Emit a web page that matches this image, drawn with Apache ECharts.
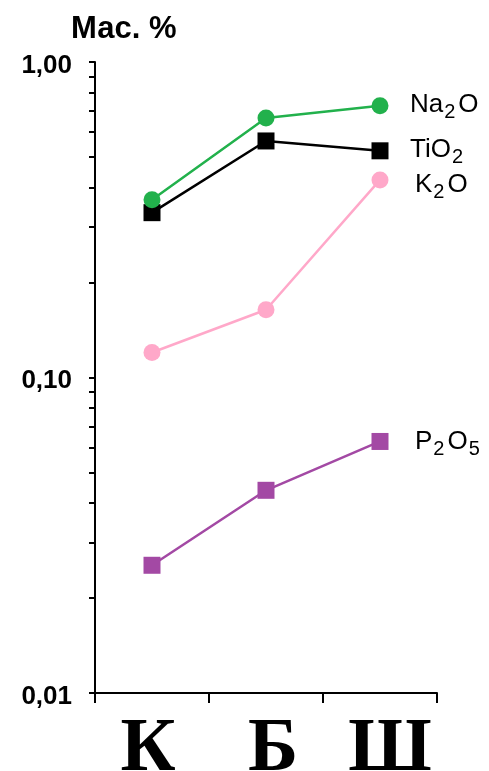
<!DOCTYPE html>
<html>
<head>
<meta charset="utf-8">
<script src="https://cdn.jsdelivr.net/npm/echarts@6/dist/echarts.min.js"></script>
<style>
html,body{margin:0;padding:0;background:#fff;}
#c{width:489px;height:771px;}
</style>
</head>
<body>
<div id="c"></div>
<script>
const categories = ['К', 'Б', 'Ш'];
const na2o = [0.366, 0.665, 0.727];
const tio2 = [0.333, 0.562, 0.523];
const k2o = [0.120, 0.164, 0.423];
const p2o5 = [0.0254, 0.0439, 0.0627];
const yTickLabels = ['0,01', '0,10', '1,00'];
const yLabelValues = [0.01, 0.1, 1];
const yTickValues = [0.01,0.02,0.03,0.04,0.05,0.06,0.07,0.08,0.09,0.1,0.2,0.3,0.4,0.5,0.6,0.7,0.8,0.9,1];
const titleText = 'Мас. %';

const chart = echarts.init(document.getElementById('c'), null, {renderer: 'canvas'});

const rich = {
  a: {fontFamily: 'Liberation Sans, Arial', fontSize: 26, color: '#000'},
  s: {fontFamily: 'Liberation Sans, Arial', fontSize: 20, color: '#000', padding: [16, 0, 0, 1]},
  o: {fontFamily: 'Liberation Sans, Arial', fontSize: 26, color: '#000', padding: [0, 0, 0, 3]}
};

function mk(name, data, color, symbol, size, fmt, offset) {
  return {
    name: name,
    type: 'line',
    data: data,
    symbol: symbol,
    symbolSize: size,
    lineStyle: {color: color, width: 2.5},
    itemStyle: {color: color},
    showSymbol: true,
    animation: false,
    endLabel: {
      show: true,
      distance: 30,
      offset: offset || [0, 0],
      formatter: fmt,
      rich: rich
    }
  };
}

const catRich = {
  k: {fontFamily: 'Liberation Serif, Times New Roman', fontWeight: 'bold', fontSize: 76, color: '#000', padding: [0, 8, 0, 0]},
  b: {fontFamily: 'Liberation Serif, Times New Roman', fontWeight: 'bold', fontSize: 76, color: '#000', padding: [0, 0, 0, 14]},
  w: {fontFamily: 'Liberation Serif, Times New Roman', fontWeight: 'bold', fontSize: 76, color: '#000', padding: [0, 0, 0, 20]}
};
const catStyles = ['k', 'b', 'w'];

chart.setOption({
  backgroundColor: '#fff',
  animation: false,
  title: {
    text: titleText,
    left: 66,
    top: 9,
    textStyle: {fontFamily: 'Liberation Sans, Arial', fontWeight: 'bold', fontSize: 31, color: '#000'}
  },
  grid: {left: 95, right: 52, top: 62, bottom: 78, containLabel: false, outerBoundsMode: 'none'},
  xAxis: {
    type: 'category',
    data: categories,
    boundaryGap: true,
    axisLine: {lineStyle: {color: '#000', width: 2}},
    axisTick: {show: true, length: 10, lineStyle: {color: '#000', width: 2}},
    axisLabel: {
      margin: 19,
      lineHeight: 76,
      formatter: function (v, i) { return '{' + catStyles[i] + '|' + v + '}'; },
      rich: catRich
    }
  },
  yAxis: {
    type: 'log',
    logBase: 10,
    min: 0.01,
    max: 1,
    axisLine: {show: true, lineStyle: {color: '#000', width: 2}},
    axisTick: {show: true, length: 6, lineStyle: {color: '#000', width: 2}, customValues: yTickValues},
    splitLine: {show: false},
    axisLabel: {
      margin: 23,
      customValues: yLabelValues,
      fontFamily: 'Liberation Sans, Arial',
      fontWeight: 'bold',
      fontSize: 26,
      color: '#000',
      verticalAlign: 'top',
      lineHeight: 7,
      formatter: function (v) {
        const i = yLabelValues.findIndex(x => Math.abs(x - v) < 1e-9);
        return i >= 0 ? yTickLabels[i] : '';
      }
    }
  },
  series: [
    mk('P2O5', p2o5, '#a349a4', 'rect', 17, '{a|P}{s|2}{o|O}{s|5}', [5, 0]),
    mk('K2O', k2o, '#ffa8c9', 'circle', 17, '{a|K}{s|2}{o|O}', [5, 5]),
    mk('TiO2', tio2, '#000000', 'rect', 17, '{a|TiO}{s|2}', [0, -1]),
    mk('Na2O', na2o, '#22b14c', 'circle', 17, '{a|Na}{s|2}{o|O}', [0, -1])
  ]
});
</script>
</body>
</html>
